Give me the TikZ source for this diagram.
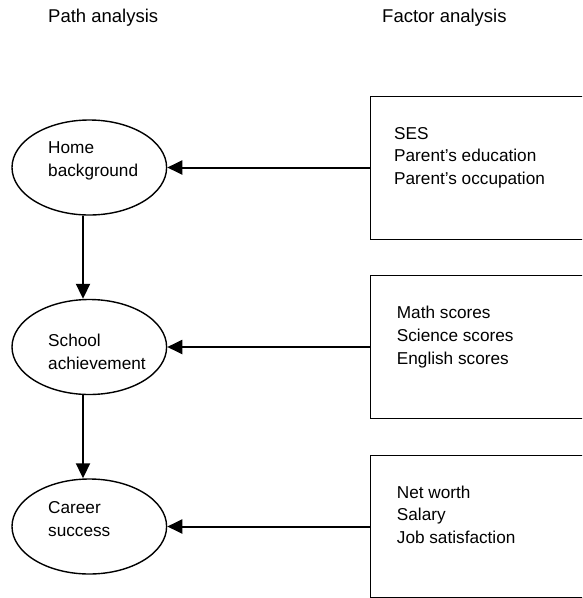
\documentclass[tikz,border=0pt]{standalone}
\usepackage{fontspec}
\setmainfont{Liberation Sans}
\usetikzlibrary{shapes.geometric,arrows.meta}
\begin{document}
\begin{tikzpicture}[x=1pt,y=-1pt,
  latent/.style={draw,ellipse,line width=1.4pt,minimum width=154.6pt,minimum height=95pt,inner sep=0pt},
  indbox/.style={draw,rectangle,line width=1.4pt,minimum width=232pt,minimum height=142.5pt,anchor=north west,inner sep=0pt},
  txt/.style={anchor=base west,inner sep=0pt,align=left,font=\fontsize{17.2}{22.6}\selectfont},
  ttl/.style={anchor=base west,inner sep=0pt,font=\fontsize{18.5}{22}\selectfont},
  arr/.style={line width=2pt,-{Triangle[length=15pt,width=14pt]}}]
\useasboundingbox (0,0) rectangle (582,598);
\clip (0,0) rectangle (582,598);
% titles
\node[ttl] (tp) at (48,22.7) {Path analysis};
\node[ttl] (tf) at (382,22.7) {Factor analysis};
% latent ellipses
\node[latent] (e1) at (89.3,167.5) {};
\node[latent] (e2) at (89.3,347) {};
\node[latent] (e3) at (89.3,526.5) {};
% labels (base anchor = baseline of last line)
\node[txt] (l1) at (48,176) {Home\\background};
\node[txt] (l2) at (48,369.3) {School\\achievement};
\node[txt] (l3) at (48,536) {Career\\success};
% indicator boxes
\node[indbox] (b1) at (370,96) {};
\node[indbox] (b2) at (370,275) {};
\node[indbox] (b3) at (370,454.5) {};
\node[txt] (t1) at (394,184.3) {SES\\Parent’s education\\Parent’s occupation};
\node[txt] (t2) at (396.7,364) {Math scores\\Science scores\\English scores};
\node[txt] (t3) at (396.7,543.3) {Net worth\\Salary\\Job satisfaction};
% arrows
\draw[arr] (e1.east -| b1.west) -- (e1.east);
\draw[arr] (e2.east -| b2.west) -- (e2.east);
\draw[arr] (e3.east -| b3.west) -- (e3.east);
\draw[arr] ([xshift=-6.3pt]e1.south) -- ([xshift=-6.3pt]e2.north);
\draw[arr] ([xshift=-6.3pt]e2.south) -- ([xshift=-6.3pt]e3.north);
\end{tikzpicture}
\end{document}
